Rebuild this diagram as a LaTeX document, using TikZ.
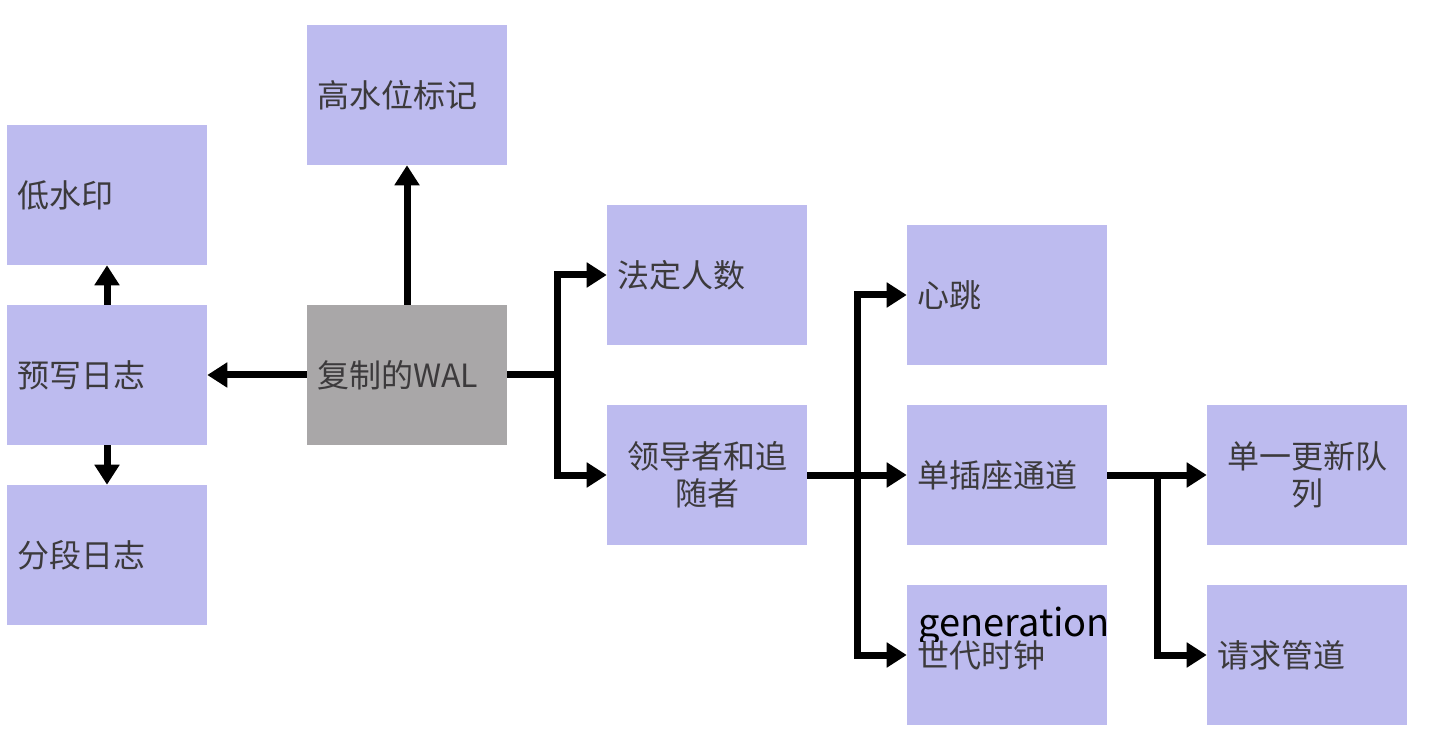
\documentclass[tikz,border=0pt]{standalone}
\usepackage{fontspec}
\setmainfont{Noto Sans CJK SC}
\usepackage{xcolor}
\usetikzlibrary{arrows.meta}
\definecolor{boxblue}{RGB}{189,187,239}
\definecolor{boxgray}{RGB}{169,167,168}
\definecolor{txtgray}{RGB}{60,58,60}
\tikzset{
  block/.style={rectangle, fill=boxblue, minimum width=150pt, minimum height=105pt,
    inner sep=7.5pt, text width=135pt, align=left, text=txtgray,
    font=\fontsize{24}{28}\selectfont},
  link/.style={line width=5.25pt},
  conn/.style={line width=5.25pt, -{Triangle[length=15pt,width=18pt]}}
}

\begin{document}
\begin{tikzpicture}[x=0.75pt,y=0.75pt,yscale=-1,xscale=1]
\useasboundingbox (0,0) rectangle (1447,745);

%Shape: Rectangle [id:lowmark]
\node[block] (lowmark) at (107,195) {低水印};
%Shape: Rectangle [id:highmark]
\node[block] (highmark) at (407,95) {高水位标记};
%Shape: Rectangle [id:wal]
\node[block] (wal) at (107,375) {预写日志};
%Shape: Rectangle [id:replwal]
\node[block, fill=boxgray] (replwal) at (407,375) {复制的WAL};
%Shape: Rectangle [id:segment]
\node[block] (segment) at (107,555) {分段日志};
%Shape: Rectangle [id:quorum]
\node[block] (quorum) at (707,275) {法定人数};
%Shape: Rectangle [id:leader]
\node[block, align=center] (leader) at (707,475) {领导者和追\\随者};
%Shape: Rectangle [id:heartbeat]
\node[block] (heartbeat) at (1007,295) {心跳};
%Shape: Rectangle [id:socket]
\node[block] (socket) at (1007,475) {单插座通道};
%Shape: Rectangle [id:genclock]
\node[block] (genclock) at (1007,655) {世代时钟};
%Shape: Rectangle [id:queue]
\node[block, align=center] (queue) at (1307,475) {单一更新队\\列};
%Shape: Rectangle [id:pipeline]
\node[block] (pipeline) at (1307,655) {请求管道};

% Text Node
\begin{scope}
\clip (900,580) rectangle (1130,641);
\node[anchor=base west, inner sep=0pt, text=black, font=\fontsize{28.5}{28.5}\selectfont] (genlabel) at (918,636) {generation};
\end{scope}

%Straight Lines
\coordinate (walfork) at (557,375);
\coordinate (leadfork) at (857,475);
\coordinate (sockfork) at (1157,475);

\draw[conn] (replwal) -- (wal);
\draw[conn] (replwal) -- (highmark);
\draw[conn] (wal) -- (lowmark);
\draw[conn] (wal) -- (segment);

\draw[link] (replwal.east) -- (walfork);
\draw[conn] (walfork) |- (quorum);
\draw[conn] (walfork) |- (leader);

\draw[conn] (leader) -- (socket);
\draw[conn] (leadfork) |- (heartbeat);
\draw[conn] (leadfork) |- (genclock);

\draw[conn] (socket) -- (queue);
\draw[conn] (sockfork) |- (pipeline);

\end{tikzpicture}
\end{document}
